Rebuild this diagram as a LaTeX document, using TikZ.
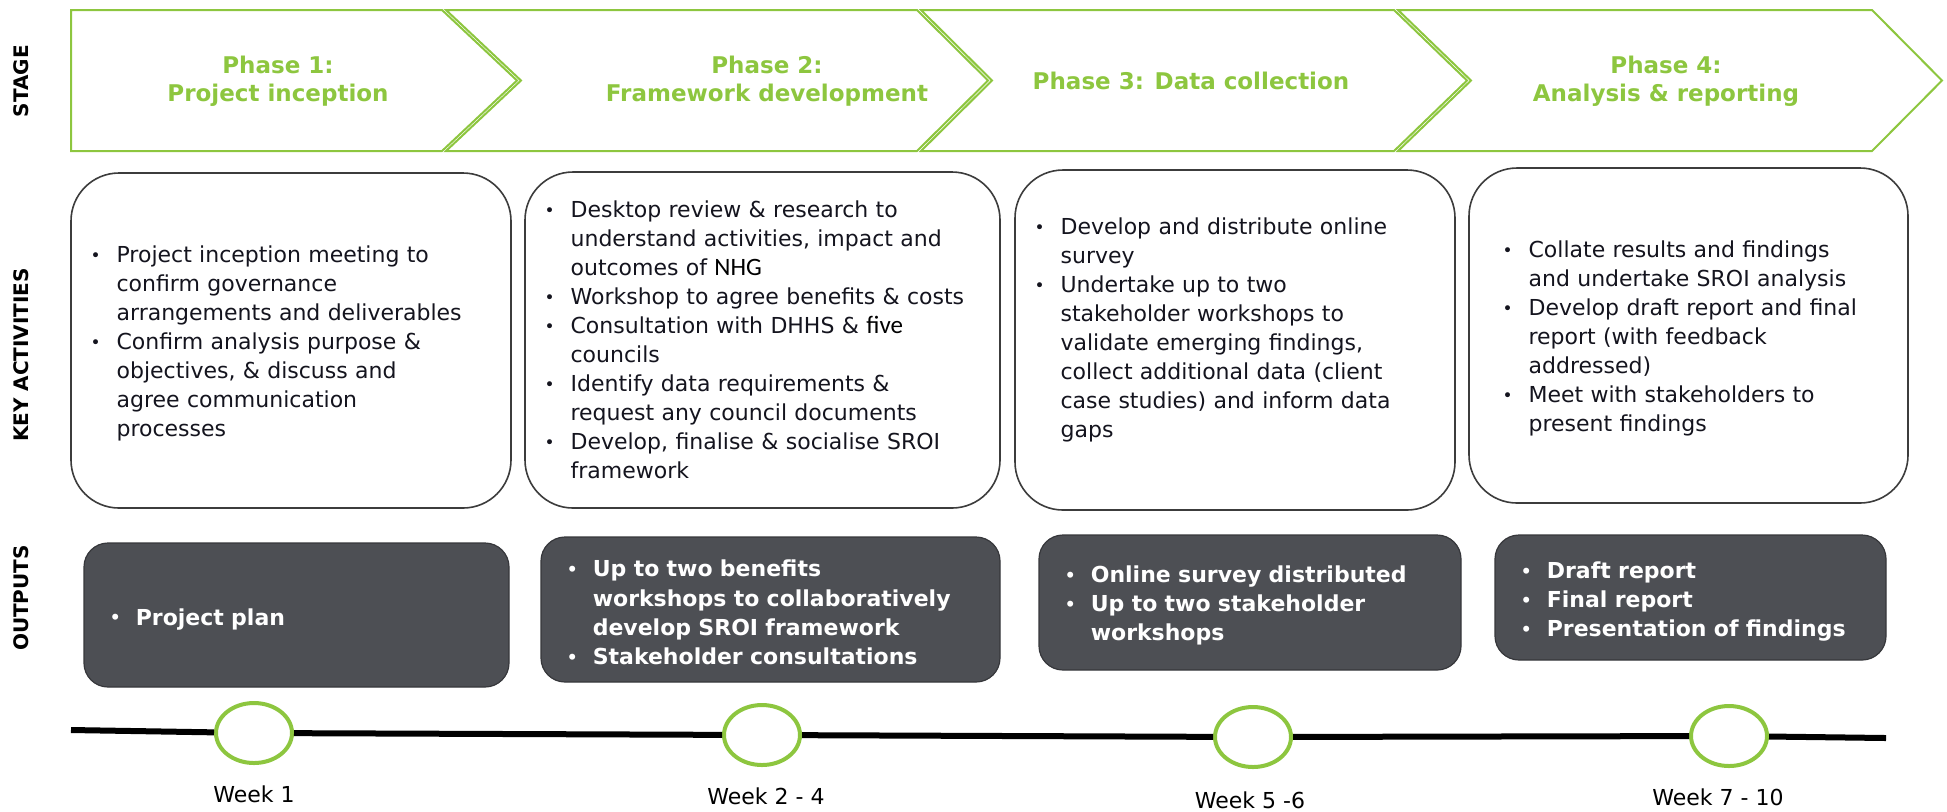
\documentclass[tikz,border=0pt]{standalone}
\usepackage{fontspec}
\setmainfont{DejaVu Sans}
\newfontfamily\calibrifont{Carlito}
\usetikzlibrary{positioning,shapes.geometric}
\definecolor{stagegreen}{RGB}{141,198,63}
\definecolor{outgray}{RGB}{77,79,84}
\definecolor{boxedge}{RGB}{60,60,60}
\definecolor{acttext}{RGB}{20,20,30}
\newcommand{\bitem}[1]{\noindent\hangindent=13pt\hangafter=1\makebox[13pt][l]{\raisebox{0.6pt}{\fontsize{8.5}{8.5}\selectfont\textbullet}}#1\par}
\newcommand{\calw}[1]{{\calibrifont\fontsize{12.5}{14.5}\selectfont\color{black}#1}}

\begin{document}
\begin{tikzpicture}
  [x=0.5pt, y=-0.5pt,
   chevron/.style={draw=stagegreen, line width=1pt},
   phasetext/.style={text=stagegreen, align=center, font=\bfseries\fontsize{11.5}{14}\selectfont},
   rowlabel/.style={rotate=90, font=\bfseries\fontsize{10}{12}\selectfont},
   actbox/.style={draw=boxedge, line width=0.8pt, rounded corners=24pt, fill=white},
   outbox/.style={draw=outgray!70!black, line width=0.6pt, rounded corners=12pt, fill=outgray},
   bullets/.style={text width=240pt, inner sep=0pt, anchor=west, text=acttext, font=\fontsize{11}{14.5}\selectfont},
   outbullets/.style={bullets, text=white, font=\bfseries\fontsize{11}{14.6}\selectfont},
   weekdot/.style={ellipse, draw=stagegreen, line width=2pt, fill=white, minimum width=38pt, minimum height=30pt},
   weeklabel/.style={inner sep=0pt, font=\fontsize{11}{13}\selectfont},
   timeline/.style={line width=3pt}]
  \useasboundingbox (0,0) rectangle (1947,811);

  % stage row
  \draw[chevron] (71,10) -- (442,10) -- (517,80.5) -- (442,151) -- (71,151) -- cycle;
  \foreach \l/\n/\r/\t in {446/521/917/988, 921/992/1394/1467, 1398/1471/1872/1942}
    \draw[chevron] (\l,10) -- (\r,10) -- (\t,80.5) -- (\r,151) -- (\l,151) -- (\n,80.5) -- cycle;
  \node[phasetext] (ph1) at (278,81) {Phase 1:\\Project inception};
  \node[phasetext] (ph2) at (767,81) {Phase 2:\\Framework development};
  \node[phasetext] (ph3) at (1191,81) {Phase 3: Data collection};
  \node[phasetext] (ph4) at (1666,81) {Phase 4:\\Analysis \& reporting};

  % row labels
  \node[rowlabel] (lblstage) at (21,81) {STAGE};
  \node[rowlabel] (lblact) at (21,355) {KEY ACTIVITIES};
  \node[rowlabel] (lblout) at (21,598) {OUTPUTS};

  % key activities
  \node[actbox, minimum width=220pt, minimum height=167.5pt] (act1) at (291,340.5) {};
  \node[actbox, minimum width=237.5pt, minimum height=168pt] (act2) at (762.5,340) {};
  \node[actbox, minimum width=220pt, minimum height=170pt] (act3) at (1235,340) {};
  \node[actbox, minimum width=219.5pt, minimum height=167.5pt] (act4) at (1688.5,335.5) {};
  \node[bullets, right=10pt of act1.west, yshift=-1.5pt] (act1txt)
    {\bitem{Project inception meeting to\newline confirm governance\newline arrangements and deliverables}%
     \bitem{Confirm analysis purpose \&\newline objectives, \& discuss and\newline agree communication\newline processes}};
  \node[bullets, right=10pt of act2.west] (act2txt)
    {\bitem{Desktop review \& research to\newline understand activities, impact and\newline outcomes of \calw{NHG}}%
     \bitem{Workshop to agree benefits \& costs}%
     \bitem{Consultation with DHHS \& \calw{five}\newline councils}%
     \bitem{Identify data requirements \&\newline request any council documents}%
     \bitem{Develop, finalise \& socialise SROI\newline framework}};
  \node[bullets, right=10pt of act3.west, yshift=5pt] (act3txt)
    {\bitem{Develop and distribute online\newline survey}%
     \bitem{Undertake up to two\newline stakeholder workshops to\newline validate emerging findings,\newline collect additional data (client\newline case studies) and inform data\newline gaps}};
  \node[bullets, right=17pt of act4.west, yshift=-1.5pt] (act4txt)
    {\bitem{Collate results and findings\newline and undertake SROI analysis}%
     \bitem{Develop draft report and final\newline report (with feedback\newline addressed)}%
     \bitem{Meet with stakeholders to\newline present findings}};

  % outputs
  \node[outbox, minimum width=212.5pt, minimum height=72pt] (out1) at (296.5,615) {};
  \node[outbox, minimum width=229.5pt, minimum height=72.5pt] (out2) at (770.5,609.5) {};
  \node[outbox, minimum width=211pt, minimum height=67.5pt] (out3) at (1250,602.5) {};
  \node[outbox, minimum width=195.5pt, minimum height=62.5pt] (out4) at (1690.5,597.5) {};
  \node[outbullets, right=13pt of out1.west, yshift=-2pt] (out1txt)
    {\bitem{Project plan}};
  \node[outbullets, right=13pt of out2.west, yshift=-1.5pt] (out2txt)
    {\bitem{Up to two benefits\newline workshops to collaboratively\newline develop SROI framework}%
     \bitem{Stakeholder consultations}};
  \node[outbullets, right=13pt of out3.west, yshift=-1.5pt] (out3txt)
    {\bitem{Online survey distributed}%
     \bitem{Up to two stakeholder\newline workshops}};
  \node[outbullets, right=13pt of out4.west, yshift=-2pt] (out4txt)
    {\bitem{Draft report}%
     \bitem{Final report}%
     \bitem{Presentation of findings}};

  % timeline
  \coordinate (tlstart) at (71,730);
  \coordinate (tlend) at (1886,738);
  \node[weekdot] (wk1) at (254,733) {};
  \node[weekdot] (wk2) at (762,735) {};
  \node[weekdot] (wk3) at (1253,737) {};
  \node[weekdot] (wk4) at (1729,736) {};
  \draw[timeline] (tlstart) -- (wk1) -- (wk2) -- (wk3) -- (wk4) -- (tlend);
  \node[weeklabel, below=10pt of wk1] (wk1lbl) {Week 1};
  \node[weeklabel, below=10pt of wk2, xshift=2pt] (wk2lbl) {Week 2 - 4};
  \node[weeklabel, below=11pt of wk3, xshift=-1.5pt] (wk3lbl) {Week 5 -6};
  \node[weeklabel, below=10pt of wk4, xshift=-5.5pt] (wk4lbl) {Week 7 - 10};
\end{tikzpicture}
\end{document}
